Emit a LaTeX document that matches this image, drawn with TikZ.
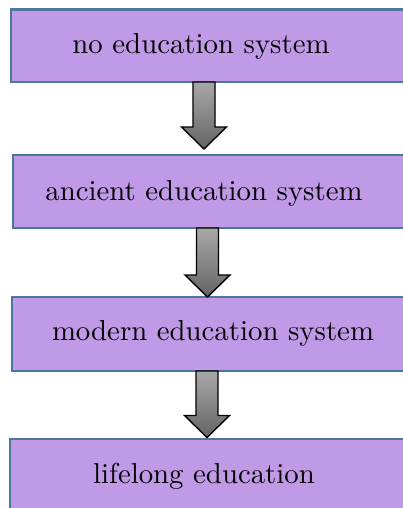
\documentclass[tikz,border=0pt]{standalone}
\usepackage{fontspec}
\newfontfamily\flowfont{lmroman10-regular.otf}
\usetikzlibrary{calc}
\definecolor{boxfill}{RGB}{192,154,230}
\definecolor{boxline}{RGB}{76,118,160}
\definecolor{arrtop}{RGB}{168,168,168}
\definecolor{arrbot}{RGB}{100,100,100}
\tikzset{
  flowbox/.style={fill=boxfill, rectangle, inner sep=0pt, outer sep=0pt},
  boxedge/.style={draw=boxline, line width=2.2pt},
  flowlbl/.style={font=\flowfont\fontsize{28.8}{32}\selectfont, text=black, inner sep=0pt, anchor=base},
  garrow/.style={draw=black, line width=1.4pt, line join=miter, top color=arrtop, bottom color=arrbot}
}
\newcommand\flowarr[4]{%
  \draw[garrow] let \p1=(#1.south -| #3,0), \p2=(#2.north -| #3,0) in
    (\x1-11pt,\y1) -- (\x1+11pt,\y1) -- (\x1+11pt,\y2+#4+22pt) -- (\x1+22.5pt,\y2+#4+22pt)
    -- (\x1,\y2+#4) -- (\x1-22.5pt,\y2+#4+22pt) -- (\x1-11pt,\y2+#4+22pt) -- cycle;}
\newcommand\flowedge[1]{\draw[boxedge] (#1.north east) -- (#1.north west) -- (#1.south west) -- (#1.south east);}
\begin{document}
\begin{tikzpicture}[x=1pt,y=-1pt]
\path[use as bounding box, clip] (0,0) rectangle (403,508);
\fill[white] (0,0) rectangle (403,508);
\node[flowbox, minimum width=500pt, minimum height=72.5pt, anchor=west] (b1) at (11,45.75) {};
\node[flowbox, minimum width=500pt, minimum height=73pt, anchor=west] (b2) at (13,191.5) {};
\node[flowbox, minimum width=500pt, minimum height=74pt, anchor=west] (b3) at (12,334) {};
\node[flowbox, minimum width=500pt, minimum height=91pt, anchor=west] (b4) at (10,484.5) {};
\flowedge{b1}\flowedge{b2}\flowedge{b3}\flowedge{b4}
\node[flowlbl] (t1) at (201,54) {no education system};
\node[flowlbl] (t2) at (204,200) {ancient education system};
\node[flowlbl] (t3) at (213,340) {modern education system};
\node[flowlbl] (t4) at (204,483) {lifelong education};
\flowarr{b1}{b2}{204}{6pt}
\flowarr{b2}{b3}{207.5}{0pt}
\flowarr{b3}{b4}{207}{1.5pt}
\end{tikzpicture}
\end{document}
